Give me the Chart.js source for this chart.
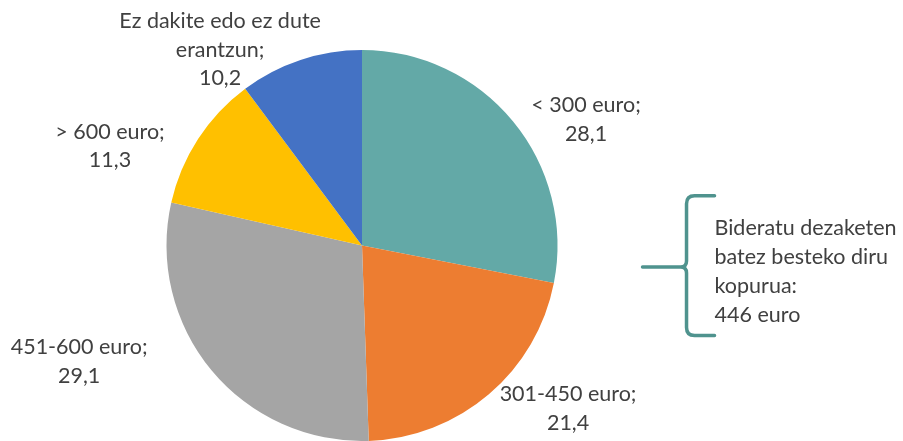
<!DOCTYPE html>
<html>
<head>
<meta charset="utf-8">
<script src="https://cdn.jsdelivr.net/npm/chart.js@4/dist/chart.umd.min.js"></script>
<style>
  html, body { margin: 0; padding: 0; background: #fff; }
  #wrap { width: 903px; height: 441px; position: relative; }
</style>
</head>
<body>
<div id="wrap"><canvas id="myChart" width="903" height="441"></canvas></div>
<script>
// data
var categories = ['< 300 euro', '301-450 euro', '451-600 euro', '> 600 euro', 'Ez dakite edo ez dute erantzun']
var values = [28.1, 21.4, 29.1, 11.3, 10.2]
var colors = ['#63A9A7', '#ED7D31', '#A5A5A5', '#FFC000', '#4472C4']
var noteLines = ['Bideratu dezaketen', 'batez besteko diru', 'kopurua:', '446 euro']

// where each label sits, in units of the pie radius from its centre
var labelOffsets = [[1.146, -0.643], [1.054, 0.834], [-1.447, 0.593], [-1.289, -0.509], [-0.726, -1.0]]
// the long label is wrapped like in the original
var labelLines = [
    ['< 300 euro;'],
    ['301-450 euro;'],
    ['451-600 euro;'],
    ['> 600 euro;'],
    ['Ez dakite edo ez dute', 'erantzun;']
]

var FONT = '21.5px Lato, "Open Sans", sans-serif'
var TEXT = '#404040'

function fmt(v){
    return v.toFixed(1).replace('.', ',')
}

var pieLabels = {
    id: 'pieLabels',
    afterDatasetsDraw(chart){
        var ctx = chart.ctx
        var arcs = chart.getDatasetMeta(0).data
        var cx = arcs[0].x, cy = arcs[0].y, r = arcs[0].outerRadius
        ctx.save()
        ctx.font = FONT
        ctx.fillStyle = TEXT
        ctx.textAlign = 'center'
        ctx.textBaseline = 'middle'
        var lh = 28.5
        arcs.forEach(function(arc, i){
            var lines = labelLines[i].concat([fmt(values[i])])
            var x = cx + labelOffsets[i][0] * r
            var y = cy + labelOffsets[i][1] * r
            var y0 = y - (lines.length - 1) * lh / 2
            lines.forEach(function(t, k){
                ctx.fillText(t, x, y0 + k * lh)
            })
        })

        // brace and note on the right
        var bx = cx + r * 1.66
        var top = cy - r * 0.255, bot = cy + r * 0.46, mid = cy + r * 0.11
        ctx.strokeStyle = '#4F938E'
        ctx.lineWidth = 3.5
        ctx.lineCap = 'round'
        ctx.lineJoin = 'round'
        ctx.beginPath()
        ctx.moveTo(bx + 28, top)
        ctx.lineTo(bx + 8, top)
        ctx.quadraticCurveTo(bx, top, bx, top + 8)
        ctx.lineTo(bx, mid - 6)
        ctx.quadraticCurveTo(bx, mid, bx - 6, mid)
        ctx.lineTo(bx - 44, mid)
        ctx.moveTo(bx - 6, mid)
        ctx.quadraticCurveTo(bx, mid, bx, mid + 6)
        ctx.lineTo(bx, bot - 8)
        ctx.quadraticCurveTo(bx, bot, bx + 8, bot)
        ctx.lineTo(bx + 28, bot)
        ctx.stroke()

        ctx.fillStyle = TEXT
        ctx.textAlign = 'left'
        noteLines.forEach(function(t, k){
            ctx.fillText(t, bx + 28, cy - r * 0.09 + k * 29)
        })
        ctx.restore()
    }
}

function renderChart(){
    var ctx = document.getElementById('myChart').getContext('2d')
    new Chart(ctx, {
        type: 'pie',
        data: {
            labels: categories,
            datasets: [{
                data: values,
                backgroundColor: colors,
                borderWidth: 0
            }]
        },
        options: {
            responsive: false,
            animation: false,
            layout: { padding: { left: 166, right: 345, top: 50, bottom: 0 } },
            plugins: {
                legend: { display: false },
                tooltip: { enabled: false }
            }
        },
        plugins: [pieLabels]
    })
}

renderChart()
</script>
</body>
</html>
